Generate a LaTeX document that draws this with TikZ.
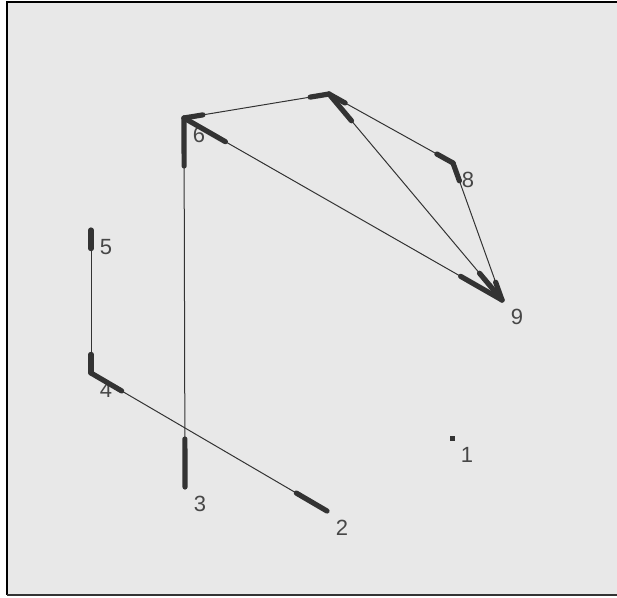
\documentclass[tikz,border=0pt]{standalone}
\usepackage{fontspec}
\setmainfont{Liberation Sans}
\usetikzlibrary{calc}
\definecolor{panelgray}{HTML}{E8E8E8}
\definecolor{edgegray}{HTML}{333333}
\tikzset{
  vtx/.style={coordinate},
  lbl/.style={font=\fontsize{22}{22}\selectfont, text=edgegray!90, inner sep=0pt},
  link/.style={draw=edgegray, line width=1pt},
  stub/.style={draw=edgegray, line width=5.2pt, line cap=round},
}

\begin{document}
\begin{tikzpicture}[x=1pt, y=-1pt]
  % panel frame
  \useasboundingbox (0,0) rectangle (617,597);
  \fill[panelgray] (7,2) rectangle (617,595);
  \draw[line width=2pt] (617,2) -- (7,2) -- (7,595);
  \draw[edgegray, line width=2pt] (7,595) -- (617,595);
  % vertices
  \foreach \i/\x/\y in {1/452/438, 2/327/511, 3/185/487, 4/91/373, 5/91/230,
                        6/184/118, 7/329/94, 8/453/163, 9/502/300}
    \node[vtx] (v\i) at (\x,\y) {};
  % labels (under the edges, as in the viewer)
  \foreach \i in {1,2,3,4,5,6,8,9}
    \node[lbl] (l\i) at ($(v\i)+(15,17)$) {\i};
  % edges: thin line, heavy stubs at both ends
  \foreach \a/\b in {4/5, 4/2, 6/3, 6/7, 6/9, 7/8, 7/9, 8/9}{
    \draw[link] (v\a) -- (v\b);
    \draw[stub] (v\a) -- ($(v\a)!0.13!(v\b)$);
    \draw[stub] (v\b) -- ($(v\b)!0.13!(v\a)$);
  }
  % isolated vertex 1
  \node[fill=edgegray, minimum size=5pt, inner sep=0pt] (dot1) at (v1) {};
\end{tikzpicture}
\end{document}
